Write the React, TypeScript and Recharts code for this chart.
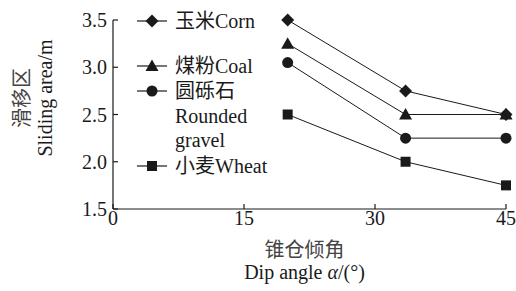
import { LineChart, Line, XAxis, YAxis, Legend, Label } from "recharts"

const angles = [20, 33.5, 45]
const corn = [3.5, 2.75, 2.5]
const coal = [3.25, 2.5, 2.5]
const gravel = [3.05, 2.25, 2.25]
const wheat = [2.5, 2.0, 1.75]
const xTicks = [0, 15, 30, 45]
const yTicks = [1.5, 2.0, 2.5, 3.0, 3.5]

const data = angles.map((a, i) => ({
  angle: a,
  corn: corn[i],
  coal: coal[i],
  gravel: gravel[i],
  wheat: wheat[i],
}))

const FONT = "'Liberation Serif', 'Times New Roman', 'Noto Sans CJK SC', serif"
const INK = "#1a1a1a"

const Marker = ({ shape, cx, cy }: { shape: string; cx: number; cy: number }) => {
  if (cx == null || cy == null) return null
  switch (shape) {
    case "diamond":
      return <polygon points={`${cx},${cy - 6.5} ${cx + 6.5},${cy} ${cx},${cy + 6.5} ${cx - 6.5},${cy}`} fill={INK} />
    case "triangle":
      return <polygon points={`${cx},${cy - 6.5} ${cx + 6.5},${cy + 5} ${cx - 6.5},${cy + 5}`} fill={INK} />
    case "circle":
      return <circle cx={cx} cy={cy} r={5.5} fill={INK} />
    default:
      return <rect x={cx - 5} y={cy - 5} width={10} height={10} fill={INK} />
  }
}

const dotOf = (shape: string) => (p: any) => <Marker key={`${shape}-${p.index}`} shape={shape} cx={p.cx} cy={p.cy} />

const legendRows = [
  { shape: "diamond", y: 21, lines: ["玉米Corn"] },
  { shape: "triangle", y: 66, lines: ["煤粉Coal"] },
  { shape: "circle", y: 91, lines: ["圆砾石", "Rounded", "gravel"] },
  { shape: "square", y: 166, lines: ["小麦Wheat"] },
]

const renderLegend = () => (
  <svg width={300} height={200} style={{ overflow: "visible" }}>
    {legendRows.map((r) => (
      <g key={r.shape}>
        <line x1={137} x2={167} y1={r.y} y2={r.y} stroke={INK} strokeWidth={1.2} />
        <Marker shape={r.shape} cx={152} cy={r.y} />
        {r.lines.map((t, j) => (
          <text key={t} x={175} y={r.y + j * 24.5} dominantBaseline="central" fontSize={20} fontFamily={FONT} fill={INK}>
            {t}
          </text>
        ))}
      </g>
    ))}
  </svg>
)

const XTitle = (props: any) => {
  const vb = props.viewBox
  const cx = vb.x + vb.width / 2 - 5
  return (
    <g fontFamily={FONT} fontSize={20} fill={INK} textAnchor="middle">
      <text x={cx} y={vb.y + 41} dominantBaseline="central" fill="#444">锥仓倾角</text>
      <text x={cx} y={vb.y + 63} dominantBaseline="central">
        Dip angle <tspan fontStyle="italic">α</tspan>/(°)
      </text>
    </g>
  )
}

const YTitle = () => (
  <g fontFamily={FONT} fontSize={20} fill={INK} textAnchor="middle">
    <text x={22} y={98} transform="rotate(-90 22 98)" dominantBaseline="central" fill="#444">滑移区</text>
    <text x={45} y={98} transform="rotate(-90 45 98)" dominantBaseline="central">Sliding area/m</text>
  </g>
)

export default function App() {
  return (
    <div style={{ position: "absolute", left: 0, top: 0, background: "#fff" }}>
      <LineChart width={516} height={291} data={data} margin={{ top: 20, right: 10, bottom: 0, left: 0 }}>
        <XAxis
          dataKey="angle"
          type="number"
          domain={[0, 45]}
          ticks={xTicks}
          height={82}
          tickSize={-5}
          tickMargin={7}
          axisLine={{ stroke: INK, strokeWidth: 1.2 }}
          tickLine={{ stroke: INK, strokeWidth: 1.2 }}
          tick={{ fill: INK, fontSize: 20, fontFamily: FONT }}
        >
          <Label content={XTitle} />
        </XAxis>
        <YAxis
          type="number"
          domain={[1.5, 3.5]}
          ticks={yTicks}
          width={113}
          tickSize={-5}
          tickMargin={11}
          tickFormatter={(v: number) => v.toFixed(1)}
          axisLine={{ stroke: INK, strokeWidth: 1.2 }}
          tickLine={{ stroke: INK, strokeWidth: 1.2 }}
          tick={{ fill: INK, fontSize: 20, fontFamily: FONT }}
        >
          <Label content={YTitle} />
        </YAxis>
        <Legend
          layout="vertical"
          align="center"
          verticalAlign="middle"
          content={renderLegend}
          wrapperStyle={{ position: "absolute", left: 0, top: 0, width: 300, height: 200 }}
        />
        <Line dataKey="corn" stroke={INK} strokeWidth={1} dot={dotOf("diamond")} isAnimationActive={false} />
        <Line dataKey="coal" stroke={INK} strokeWidth={1} dot={dotOf("triangle")} isAnimationActive={false} />
        <Line dataKey="gravel" stroke={INK} strokeWidth={1} dot={dotOf("circle")} isAnimationActive={false} />
        <Line dataKey="wheat" stroke={INK} strokeWidth={1} dot={dotOf("square")} isAnimationActive={false} />
      </LineChart>
    </div>
  )
}
